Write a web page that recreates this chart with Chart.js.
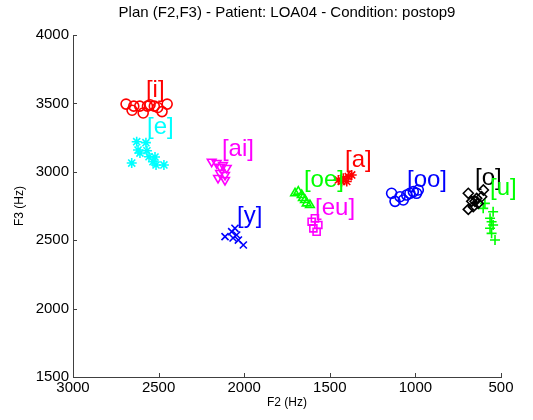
<!DOCTYPE html>
<html>
<head>
<meta charset="utf-8">
<script src="https://cdn.jsdelivr.net/npm/chart.js@4.4.1/dist/chart.umd.min.js"></script>
<style>
  body { margin: 0; background: #fff; }
</style>
</head>
<body>
<canvas id="scatter_F2F3" width="533" height="420"></canvas>
<script>

// formant values (Hz), one pair of arrays per vowel
const f2_i  = [2690, 2655, 2645, 2610, 2590, 2565, 2550, 2525, 2505, 2480, 2450];
const f3_i  = [3495, 3450, 3480, 3480, 3430, 3480, 3490, 3480, 3470, 3440, 3495];
const f2_e  = [2628, 2574, 2620, 2609, 2568, 2556, 2521, 2657, 2515, 2469, 2533];
const f3_e  = [3220, 3213, 3159, 3137, 3154, 3110, 3108, 3064, 3050, 3050, 3074];
const f2_ai = [2190, 2161, 2141, 2124, 2102, 2141, 2112, 2153, 2112];
const f3_ai = [3074, 3064, 3037, 3050, 3028, 2991, 2977, 2955, 2940];
const f2_y  = [2112, 2073, 2054, 2044, 2034, 2005, 2065];
const f3_y  = [2526, 2562, 2587, 2538, 2501, 2465, 2516];
const f2_oe = [1703, 1684, 1664, 1645, 1635, 1616, 1657];
const f3_oe = [2843, 2855, 2830, 2794, 2769, 2757, 2808];
const f2_a  = [1450, 1421, 1392, 1372, 1401, 1431];
const f3_a  = [2940, 2952, 2964, 2977, 2929, 2929];
const f2_eu = [1606, 1587, 1596, 1567, 1577];
const f3_eu = [2635, 2660, 2587, 2611, 2562];
const f2_oo = [1139, 1119, 1090, 1071, 1051, 1032, 1012, 993, 983];
const f3_oo = [2843, 2784, 2818, 2794, 2830, 2843, 2855, 2843, 2867];
const f2_o  = [691, 671, 662, 691, 642, 633, 652, 603, 613];
const f3_o  = [2843, 2784, 2745, 2725, 2806, 2769, 2784, 2867, 2818];
const f2_u  = [594, 604, 546, 564, 555, 546, 564, 555, 535];
const f3_u  = [2769, 2733, 2708, 2660, 2635, 2611, 2587, 2550, 2501];

// vowel labels and where they sit (left edge, middle)
const vowelLabels = ['[i]', '[e]', '[ai]', '[y]', '[oe]', '[a]', '[eu]', '[oo]', '[o]', '[u]'];
const labelF2 = [2574, 2568, 2130, 2042, 1651, 1411, 1586, 1049, 652, 564];
const labelF3 = [3598, 3327, 3167, 2677, 2940, 3086, 2735, 2940, 2955, 2882];

const f2Ticks = [3000, 2500, 2000, 1500, 1000, 500];
const f3Ticks = [1500, 2000, 2500, 3000, 3500, 4000];

const titleText = 'Plan (F2,F3) - Patient: LOA04 - Condition: postop9';

function pairs(xs, ys) {
    return xs.map((v, k) => ({x: v, y: ys[k]}));
}

function vowelSet(label, xs, ys, color, style, rot) {
    return {
        label: label,
        data: pairs(xs, ys),
        pointStyle: style,
        rotation: rot || 0,
        pointRadius: 5,
        pointHoverRadius: 5,
        borderColor: color,
        backgroundColor: 'rgba(0,0,0,0)',
        pointBorderWidth: 1.6,
        showLine: false
    };
}

const labelColors = ['#ff0000', '#00ffff', '#ff00ff', '#0000ff', '#00ff00', '#ff0000', '#ff00ff', '#0000ff', '#000000', '#00ff00'];

const axisColor = '#404040';
const fontFam = '"Liberation Sans", Arial, sans-serif';

const annotate = {
    id: 'annotate',
    afterDatasetsDraw(chart) {
        const ctx = chart.ctx;
        const xs = chart.scales.x, ys = chart.scales.y;
        const area = chart.chartArea;
        ctx.save();
        // inward tick marks like matlab
        ctx.strokeStyle = axisColor;
        ctx.lineWidth = 1;
        const bottom = ys.getPixelForValue(1500);
        const left = xs.getPixelForValue(3000);
        f2Ticks.forEach(t => {
            const px = Math.round(xs.getPixelForValue(t)) + 0.5;
            ctx.beginPath();
            ctx.moveTo(px, bottom);
            ctx.lineTo(px, bottom - 4);
            ctx.stroke();
        });
        f3Ticks.forEach(t => {
            const py = Math.round(ys.getPixelForValue(t)) + 0.5;
            ctx.beginPath();
            ctx.moveTo(left, py);
            ctx.lineTo(left + 4, py);
            ctx.stroke();
        });
        // vowel labels
        ctx.font = '24px ' + fontFam;
        ctx.textAlign = 'left';
        ctx.textBaseline = 'middle';
        vowelLabels.forEach((txt, k) => {
            ctx.fillStyle = labelColors[k];
            ctx.fillText(txt, xs.getPixelForValue(labelF2[k]), ys.getPixelForValue(labelF3[k]));
        });
        // title centred over the axes
        ctx.fillStyle = '#000';
        ctx.font = '15px ' + fontFam;
        ctx.textAlign = 'center';
        ctx.fillText(titleText, (area.left + area.right) / 2, 13);
        ctx.restore();
    }
};

const config_F2F3 = {
    type: 'scatter',
    data: {
        datasets: [
            vowelSet('[i]',  f2_i,  f3_i,  '#ff0000', 'circle'),
            vowelSet('[e]',  f2_e,  f3_e,  '#00ffff', 'star'),
            vowelSet('[ai]', f2_ai, f3_ai, '#ff00ff', 'triangle', 180),
            vowelSet('[y]',  f2_y,  f3_y,  '#0000ff', 'crossRot'),
            vowelSet('[oe]', f2_oe, f3_oe, '#00ff00', 'triangle'),
            vowelSet('[a]',  f2_a,  f3_a,  '#ff0000', 'star'),
            vowelSet('[eu]', f2_eu, f3_eu, '#ff00ff', 'rect'),
            vowelSet('[oo]', f2_oo, f3_oo, '#0000ff', 'circle'),
            vowelSet('[o]',  f2_o,  f3_o,  '#000000', 'rectRot'),
            vowelSet('[u]',  f2_u,  f3_u,  '#00ff00', 'cross')
        ]
    },
    options: {
        responsive: false,
        animation: false,
        layout: { padding: { left: 0, right: 32, top: 35, bottom: 0 } },
        plugins: {
            legend: { display: false },
            tooltip: { enabled: false },
            title: { display: false }
        },
        scales: {
            x: {
                type: 'linear',
                reverse: true,
                min: 500,
                max: 3000,
                afterFit(scale) { scale.height = 43; },
                afterBuildTicks(scale) { scale.ticks = f2Ticks.map(v => ({value: v})); },
                border: { display: true, color: axisColor, width: 1 },
                grid: { display: true, drawOnChartArea: false, drawTicks: false },
                ticks: {
                    color: '#000',
                    padding: 2,
                    maxRotation: 0,
                    font: { family: fontFam, size: 15 },
                    callback: v => String(v)
                },
                title: {
                    display: true,
                    text: 'F2 (Hz)',
                    color: '#000',
                    font: { family: fontFam, size: 12 },
                    padding: { top: 0, bottom: 10 }
                }
            },
            y: {
                type: 'linear',
                min: 1500,
                max: 4000,
                afterFit(scale) { scale.width = 73; },
                afterBuildTicks(scale) { scale.ticks = f3Ticks.map(v => ({value: v})); },
                border: { display: true, color: axisColor, width: 1 },
                grid: { display: true, drawOnChartArea: false, drawTicks: false },
                ticks: {
                    color: '#000',
                    padding: 4,
                    font: { family: fontFam, size: 15 },
                    callback: v => String(v)
                },
                title: {
                    display: true,
                    text: 'F3 (Hz)',
                    color: '#000',
                    font: { family: fontFam, size: 12 },
                    padding: { top: 12, bottom: 0 }
                }
            }
        }
    },
    plugins: [annotate]
};

const ctx_F2F3 = document.getElementById('scatter_F2F3').getContext('2d');
const myChart_F2F3 = new Chart(ctx_F2F3, config_F2F3);
</script>
</body>
</html>
